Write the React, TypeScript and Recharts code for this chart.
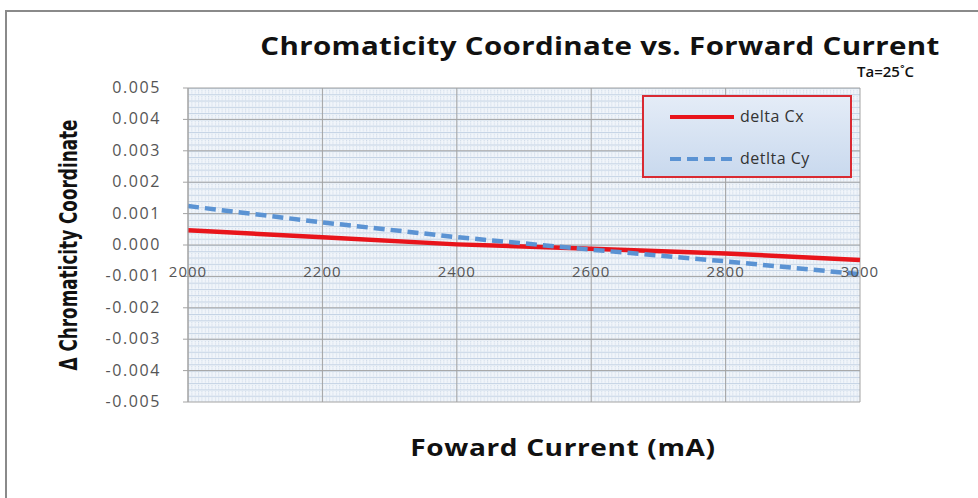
import React from "react";
import {
  LineChart,
  Line,
  XAxis,
  YAxis,
  CartesianGrid,
} from "recharts";

const currents = [2000, 2200, 2400, 2600, 2800, 3000];
const deltaCx = [0.00047, 0.00025, 0.00002, -0.00012, -0.00027, -0.00048];
const deltaCy = [0.00124, 0.00072, 0.00025, -0.00015, -0.00052, -0.00093];
const yTicks = [-0.005, -0.004, -0.003, -0.002, -0.001, 0, 0.001, 0.002, 0.003, 0.004, 0.005];
const seriesNames = ["delta Cx", "detlta Cy"];

const data = currents.map((c, i) => ({ current: c, cx: deltaCx[i], cy: deltaCy[i] }));

const labelFont = "'Open Sans', 'Liberation Sans', sans-serif";

function XTick(props: any) {
  const { x, y, payload } = props;
  return (
    <text
      x={x}
      y={y}
      dy={-133}
      textAnchor="middle"
      fill="#555"
      fontSize={15}
      letterSpacing={1}
      fontFamily={labelFont}
    >
      {payload.value}
    </text>
  );
}

function YTick(props: any) {
  const { x, y, payload } = props;
  return (
    <text
      x={x}
      y={y}
      dy={5}
      textAnchor="end"
      fill="#555"
      fontSize={16}
      letterSpacing={1.6}
      fontFamily={labelFont}
    >
      {payload.value.toFixed(3)}
    </text>
  );
}

function LegendBox() {
  return (
    <div
      style={{
        position: "absolute",
        left: 642,
        top: 95,
        width: 206,
        height: 79,
        border: "2px solid #d92a32",
        background: "linear-gradient(180deg, #e4ecf7 0%, #c9d9ee 100%)",
        fontFamily: labelFont,
        fontSize: 16,
        letterSpacing: 0.5,
        color: "#333",
      }}
    >
      <svg width={70} height={79} style={{ position: "absolute", left: 26, top: 0 }}>
        <line x1={0} y1={20} x2={64} y2={20} stroke="#e8141b" strokeWidth={4} />
        <line x1={0} y1={62} x2={64} y2={62} stroke="#5b93d3" strokeWidth={4} strokeDasharray="11 6" />
      </svg>
      <div style={{ position: "absolute", left: 96, top: 8 }}>{seriesNames[0]}</div>
      <div style={{ position: "absolute", left: 96, top: 50 }}>{seriesNames[1]}</div>
    </div>
  );
}

export default function App() {
  return (
    <div
      style={{
        position: "absolute",
        left: 0,
        top: 0,
        width: 978,
        height: 498,
        background: "#fff",
        overflow: "hidden",
      }}
    >
      <div
        style={{
          position: "absolute",
          left: 5,
          top: 10,
          width: 1000,
          height: 520,
          borderTop: "2px solid #8a8a8a",
          borderLeft: "2px solid #8a8a8a",
        }}
      />
      <div
        style={{
          position: "absolute",
          left: 600,
          top: 45,
          transform: "translate(-50%, -50%) scaleX(1.18)",
          fontFamily: labelFont,
          fontWeight: 700,
          fontSize: 25,
          letterSpacing: 0.3,
          color: "#111",
          whiteSpace: "nowrap",
        }}
      >
        Chromaticity Coordinate vs. Forward Current
      </div>
      <div
        style={{
          position: "absolute",
          left: 857,
          top: 61,
          fontFamily: labelFont,
          fontWeight: 600,
          fontSize: 15,
          color: "#111",
        }}
      >
        Ta=25˚C
      </div>
      <div
        style={{
          position: "absolute",
          left: 69,
          top: 245,
          transform: "translate(-50%, -50%) rotate(-90deg) scaleX(0.78)",
          fontFamily: "'Liberation Sans Narrow', 'DejaVu Sans Condensed', 'Open Sans', sans-serif",
          fontWeight: 700,
          fontSize: 24,
          color: "#111",
          whiteSpace: "nowrap",
        }}
      >
        Δ Chromaticity Coordinate
      </div>
      <div
        style={{
          position: "absolute",
          left: 563,
          top: 447,
          transform: "translate(-50%, -50%) scaleX(1.22)",
          fontFamily: labelFont,
          fontWeight: 700,
          fontSize: 23,
          letterSpacing: 0.5,
          color: "#111",
          whiteSpace: "nowrap",
        }}
      >
        Foward Current (mA)
      </div>
      <LineChart
        width={978}
        height={498}
        data={data}
        margin={{ top: 88, right: 118, bottom: 66, left: 108 }}
        style={{ position: "absolute", left: 0, top: 0 }}
      >
        <defs>
          <pattern id="minorGrid" x={188} y={88} width={3.36} height={6.28} patternUnits="userSpaceOnUse">
            <rect width={3.36} height={6.28} fill="#f1f5fa" />
            <line x1={0.5} y1={0} x2={0.5} y2={6.28} stroke="#c3d2e4" strokeWidth={1} strokeDasharray="1 1" />
            <line x1={0} y1={0.5} x2={3.36} y2={0.5} stroke="#c3d2e4" strokeWidth={1} />
          </pattern>
        </defs>
        <CartesianGrid stroke="#a3a3a3" fill="url(#minorGrid)" fillOpacity={1} />
        <XAxis
          dataKey="current"
          type="number"
          domain={[2000, 3000]}
          ticks={currents}
          height={30}
          axisLine={false}
          tickLine={false}
          tick={<XTick />}
        />
        <YAxis
          type="number"
          domain={[-0.005, 0.005]}
          ticks={yTicks}
          width={80}
          tick={<YTick />}
          tickSize={5}
          tickMargin={22}
          axisLine={{ stroke: "#a3a3a3" }}
          tickLine={{ stroke: "#a3a3a3" }}
        />
        <Line
          dataKey="cx"
          name={seriesNames[0]}
          stroke="#e8141b"
          strokeWidth={4.5}
          dot={false}
          isAnimationActive={false}
        />
        <Line
          dataKey="cy"
          name={seriesNames[1]}
          stroke="#5b93d3"
          strokeWidth={4.5}
          strokeDasharray="11 6"
          dot={false}
          isAnimationActive={false}
        />
      </LineChart>
      <LegendBox />
    </div>
  );
}
